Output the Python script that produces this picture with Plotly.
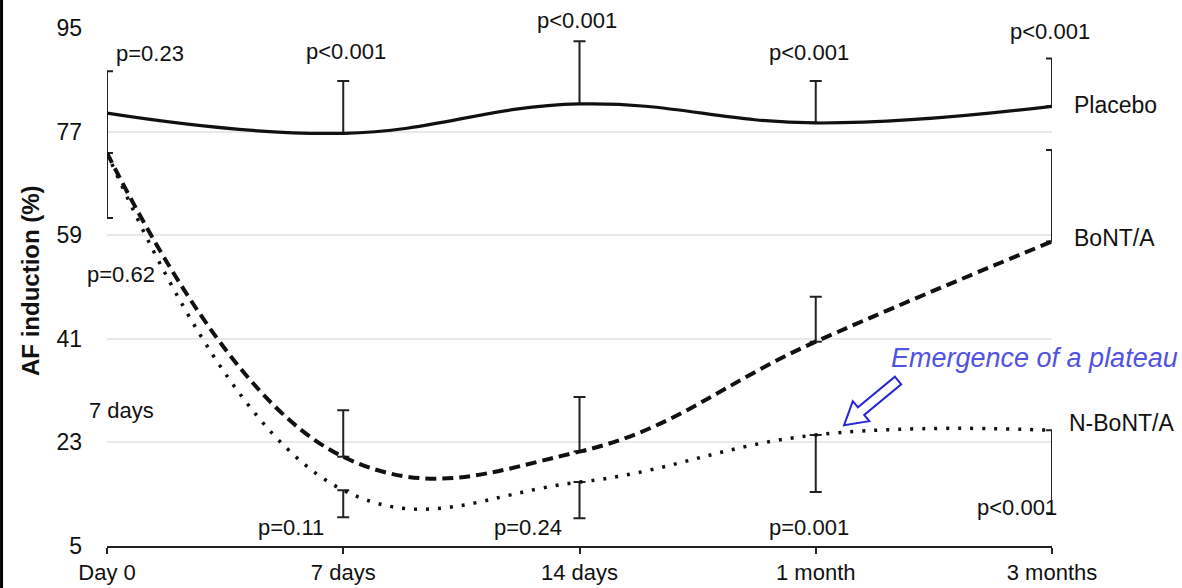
import math
import plotly.graph_objects as go

# ---------------- data ----------------
timepoints = ["Day 0", "7 days", "14 days", "1 month", "3 months"]

placebo = [80.2, 76.7, 81.8, 78.5, 81.4]
placebo_err_up = [7.3, 9.1, 10.9, 7.3, 8.3]
placebo_err_down = [6.9, 0, 0, 0, 0]

bont = [73.3, 20.5, 21.4, 40.5, 57.9]
bont_err_up = [0, 8.1, 9.5, 7.8, 15.9]
bont_err_down = [11.3, 0, 0, 0, 0]

nbont = [73.3, 14.7, 16.1, 24.3, 25.1]
nbont_err_up = [0, 0, 0, 0, 0]
nbont_err_down = [0, 4.7, 6.3, 9.9, 14.4]

y_ticks = [5, 23, 41, 59, 77, 95]

series_names = ["Placebo", "BoNT/A", "N-BoNT/A"]

# p-value labels (text, x position in category units, y value, extra vertical shift px)
p_labels_top = ["p=0.23", "p<0.001", "p<0.001", "p<0.001", "p<0.001"]
p_top_x = [0.18, 1.01, 1.99, 2.97, 3.99]
p_top_y = [90.5, 90.9, 95.0, 90.7, 94.4]
p_top_shift = [0, 0, 8, 0, 0]

p_labels_bottom = ["p=0.62", "p=0.11", "p=0.24", "p=0.001", "p<0.001"]
p_bot_x = [0.06, 0.78, 1.78, 2.97, 3.85]
p_bot_y = [52.1, 8.2, 8.2, 8.2, 11.7]
p_bot_shift = [0, 0, 0, 0, 0]

FONT = "Liberation Sans, Arial, Helvetica, sans-serif"
INK = "#111111"
ERR = "#222222"

fig = go.Figure()

def add_series(name, y, up, down, dash, width):
    fig.add_trace(go.Scatter(
        x=timepoints, y=y, name=name, mode="lines",
        line=dict(color=INK, width=width, dash=dash, shape="spline", smoothing=1.2),
        error_y=dict(type="data", symmetric=False, array=up, arrayminus=down,
                     color=ERR, thickness=2, width=6),
        cliponaxis=False, hoverinfo="skip",
    ))

add_series(series_names[0], placebo, placebo_err_up, placebo_err_down, "solid", 3.2)
add_series(series_names[1], bont, bont_err_up, bont_err_down, "11px,6px", 4)
add_series(series_names[2], nbont, nbont_err_up, nbont_err_down, "3px,9px", 3.5)

annotations = []
for t, x, y, s in zip(p_labels_top + p_labels_bottom, p_top_x + p_bot_x,
                      p_top_y + p_bot_y, p_top_shift + p_bot_shift):
    annotations.append(dict(x=x, y=y, xref="x", yref="y", yshift=s, text=t, showarrow=False,
                            font=dict(family=FONT, size=22, color=INK),
                            xanchor="center", yanchor="middle"))

# series labels to the right of the last point (anchored at last category, shifted in px)
label_y = [81.7, 58.5, 26.3]
label_shift = [20, 20, 15]
for name, y, s in zip(series_names, label_y, label_shift):
    annotations.append(dict(x=timepoints[-1], y=y, xref="x", yref="y", xshift=s,
                            text=name, showarrow=False,
                            font=dict(family=FONT, size=23, color=INK),
                            xanchor="left", yanchor="middle"))

# stray "7 days" label on the left
annotations.append(dict(x=0.06, y=28.6, xref="x", yref="y", text="7 days", showarrow=False,
                        font=dict(family=FONT, size=22, color=INK),
                        xanchor="center", yanchor="middle"))

# plateau annotation
annotations.append(dict(x=3.31, y=37.7, xref="x", yref="y",
                        text="<i>Emergence of a plateau</i>", showarrow=False,
                        font=dict(family=FONT, size=27, color="#5252e2"),
                        xanchor="left", yanchor="middle"))

# y-axis title
annotations.append(dict(x=-0.0804, y=0.5116, xref="paper", yref="paper",
                        text="<b>AF induction (%)</b>", textangle=-90, showarrow=False,
                        font=dict(family=FONT, size=24, color=INK),
                        xanchor="center", yanchor="middle"))

# hollow block arrow (pixel geometry anchored at its tip)
ang = math.atan2(43, 52)
dx, dy = math.cos(ang), math.sin(ang)
nx, ny = -math.sin(ang), math.cos(ang)
local = [(0, 0), (22, 13), (22, 5), (70, 5), (70, -5), (22, -5), (22, -13)]
pts = [(u * dx + v * nx, u * dy + v * ny) for u, v in local]
arrow_path = "M " + " L ".join(f"{px:.1f},{py:.1f}" for px, py in pts) + " Z"

shapes = [
    dict(type="path", xref="x", yref="y", xsizemode="pixel", ysizemode="pixel",
         xanchor=3.12, yanchor=26.0, path=arrow_path,
         line=dict(color="#2626d8", width=2), fillcolor="rgba(0,0,0,0)"),
    # left border line of the figure
    dict(type="line", xref="paper", yref="paper", x0=-0.1116, x1=-0.1116, y0=-0.2, y1=1.2,
         line=dict(color="#000000", width=3)),
]

fig.update_layout(
    width=1182, height=588,
    margin=dict(l=107, r=130, t=28, b=42, autoexpand=False),
    paper_bgcolor="white", plot_bgcolor="white",
    showlegend=False,
    font=dict(family=FONT, color=INK),
    annotations=annotations,
    shapes=shapes,
    xaxis=dict(type="category", categoryorder="array", categoryarray=timepoints,
               range=[0, 4], showgrid=False, zeroline=False, automargin=False,
               showline=True, linecolor=ERR, linewidth=2,
               ticks="outside", ticklen=6, tickwidth=2, tickcolor=ERR,
               tickfont=dict(family=FONT, size=22, color=INK),
               ticklabelstandoff=0),
    yaxis=dict(range=[5, 95], tickvals=y_ticks, ticktext=[str(v) for v in y_ticks],
               showgrid=True, gridcolor="#e9e9e9", gridwidth=2, automargin=False,
               zeroline=False, showline=False, ticks="",
               tickfont=dict(family=FONT, size=23, color=INK),
               ticklabelstandoff=24),
)

fig.write_html("out.html", config={"displayModeBar": False},
               post_script="document.body.style.margin='0';document.body.style.overflow='hidden';")
